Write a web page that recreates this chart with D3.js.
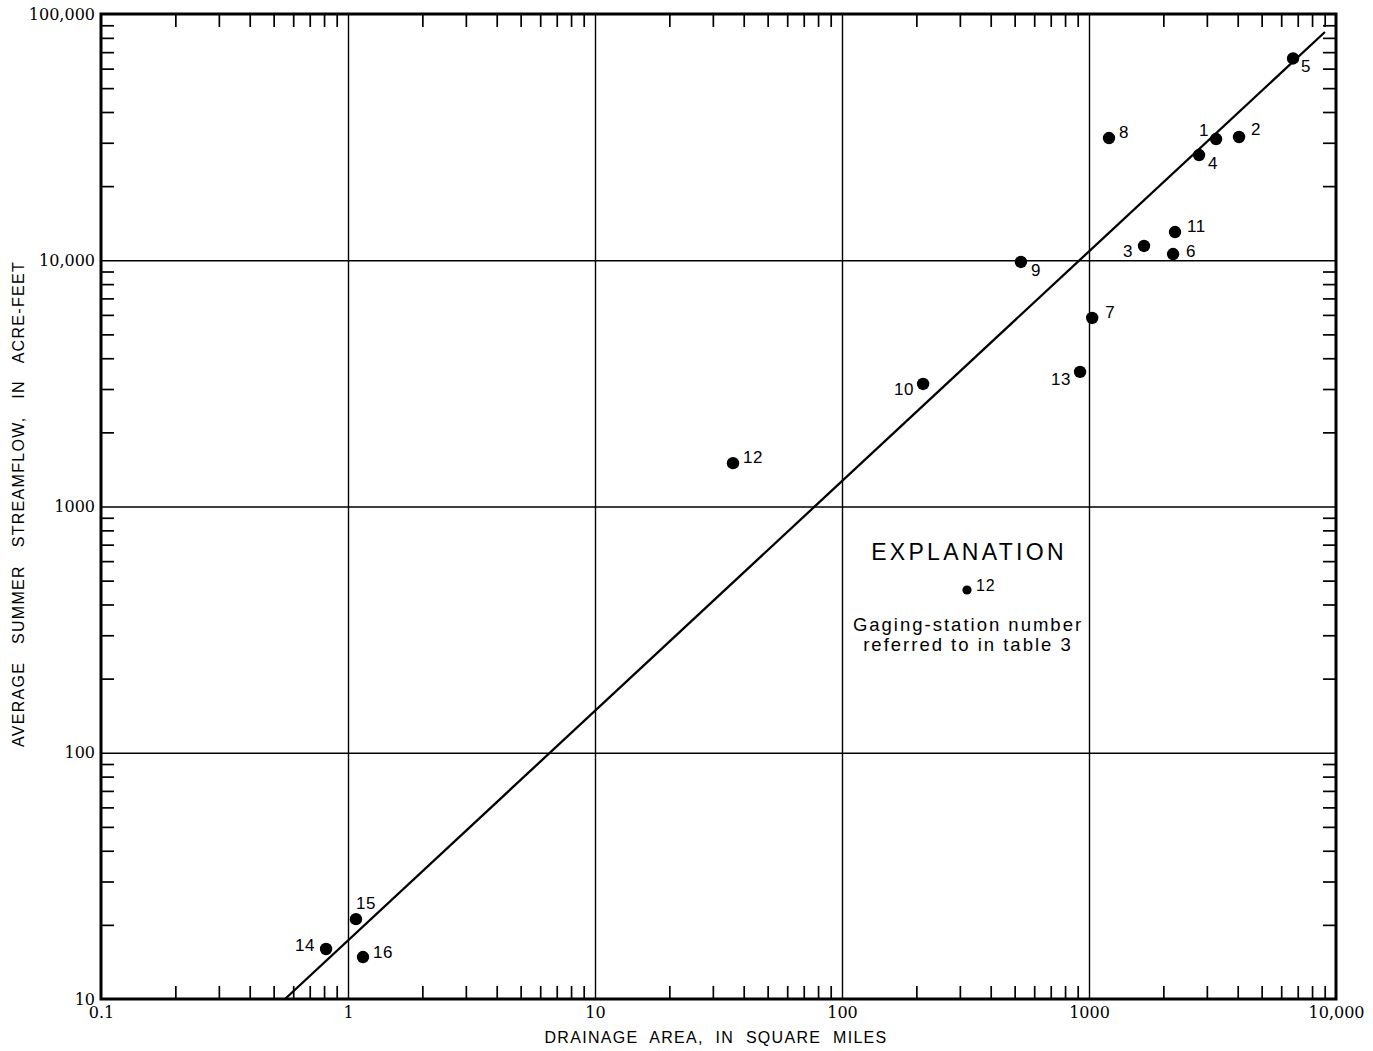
<!DOCTYPE html>
<html><head><meta charset="utf-8">
<script src="https://cdn.jsdelivr.net/npm/d3@7"></script>
<style>body{margin:0;background:#fff}</style>
</head><body>
<svg id="c" width="1373" height="1051"></svg>
<script>
// ---- data ----
const stations     = [5, 8, 1, 2, 4, 11, 3, 6, 9, 7, 13, 10, 12, 15, 14, 16];
const drainageArea = [6700, 1205, 3270, 4050, 2790, 2230, 1670, 2190, 530, 1030, 920, 213, 36.2, 1.077, 0.815, 1.15];
const summerFlow   = [66000, 31350, 31070, 31660, 26750, 13020, 11430, 10600, 9840, 5830, 3520, 3145, 1500, 21.1, 15.96, 14.8];
const fitArea = [0.556, 9020];
const fitFlow = [10, 84500];
const xTickValues = [0.1, 1, 10, 100, 1000, 10000];
const xTickLabels = ["0.1", "1", "10", "100", "1000", "10,000"];
const yTickValues = [10, 100, 1000, 10000, 100000];
const yTickLabels = ["10", "100", "1000", "10,000", "100,000"];
const xTitle = "DRAINAGE AREA, IN SQUARE MILES";
const yTitle = "AVERAGE SUMMER STREAMFLOW, IN ACRE-FEET";
const legendTitle = "EXPLANATION";
const legendNumber = "12";
const legendLines = ["Gaging-station number", "referred to in table  3"];

// ---- layout ----
const L = 101, R = 1336, T = 14, B = 999;
const svg = d3.select("#c");
const x = d3.scaleLog().domain([0.1, 10000]).range([L, R]);
const y = d3.scaleLog().domain([10, 100000]).range([B, T]);

function minorTicks(domain) {
  const out = [];
  for (let d = domain[0]; d < domain[1]; d *= 10)
    for (let k = 2; k <= 9; k++) out.push(+(d * k).toPrecision(6));
  return out;
}
const xMinor = minorTicks(x.domain());
const yMinor = minorTicks(y.domain());
const tick = 13;
const sans = "'Liberation Sans', Arial, Helvetica, sans-serif";
const serif = "'DejaVu Serif', 'Liberation Serif', serif";

function clean(g) { g.select(".domain").remove(); }

// gridlines
svg.append("g").attr("transform", `translate(0,${B})`)
  .call(d3.axisBottom(x).tickValues(xTickValues.slice(1, -1)).tickSize(-(B - T)).tickFormat(""))
  .call(clean).selectAll("line").attr("stroke", "#000").attr("stroke-width", 1.4);
svg.append("g").attr("transform", `translate(${L},0)`)
  .call(d3.axisLeft(y).tickValues(yTickValues.slice(1, -1)).tickSize(-(R - L)).tickFormat(""))
  .call(clean).selectAll("line").attr("stroke", "#000").attr("stroke-width", 1.4);

// minor ticks, inward on all sides
const minorStyle = g => g.call(clean).selectAll("line").attr("stroke", "#000").attr("stroke-width", 1.7);
svg.append("g").attr("transform", `translate(0,${B})`)
  .call(d3.axisBottom(x).tickValues(xMinor).tickSize(-tick).tickFormat("")).call(minorStyle);
svg.append("g").attr("transform", `translate(0,${T})`)
  .call(d3.axisTop(x).tickValues(xMinor).tickSize(-tick).tickFormat("")).call(minorStyle);
svg.append("g").attr("transform", `translate(${L},0)`)
  .call(d3.axisLeft(y).tickValues(yMinor).tickSize(-tick).tickFormat("")).call(minorStyle);
svg.append("g").attr("transform", `translate(${R},0)`)
  .call(d3.axisRight(y).tickValues(yMinor).tickSize(-tick).tickFormat("")).call(minorStyle);

// frame
svg.append("rect").attr("x", L).attr("y", T).attr("width", R - L).attr("height", B - T)
  .attr("fill", "none").attr("stroke", "#000").attr("stroke-width", 3);

// tick labels
const tickFont = g => g.call(clean).selectAll("text")
  .style("font-family", serif).style("font-size", "16px").attr("fill", "#000");
svg.append("g").attr("transform", `translate(0,${B})`)
  .call(d3.axisBottom(x).tickValues(xTickValues).tickSize(0).tickPadding(8)
    .tickFormat((d, i) => xTickLabels[i])).call(tickFont);
svg.append("g").attr("transform", `translate(${L},0)`)
  .call(d3.axisLeft(y).tickValues(yTickValues).tickSize(0).tickPadding(6)
    .tickFormat((d, i) => yTickLabels[i])).call(tickFont);

// axis titles
svg.append("text").attr("x", 716).attr("y", 1043).attr("text-anchor", "middle")
  .style("font-family", sans).style("font-size", "16px")
  .attr("letter-spacing", 1.3).attr("word-spacing", 6).text(xTitle);
svg.append("text").attr("transform", "translate(24,504) rotate(-90)").attr("text-anchor", "middle")
  .style("font-family", sans).style("font-size", "16px")
  .attr("letter-spacing", 1.3).attr("word-spacing", 12).text(yTitle);

// fitted line
const pts = fitArea.map((a, i) => [x(a), y(fitFlow[i])]);
svg.append("path").attr("d", d3.line()(pts)).attr("fill", "none")
  .attr("stroke", "#000").attr("stroke-width", 2.3);

// points
const data = stations.map((s, i) => ({ s, a: drainageArea[i], q: summerFlow[i] }));
svg.append("g").selectAll("circle").data(data).join("circle")
  .attr("cx", d => x(d.a)).attr("cy", d => y(d.q)).attr("r", 6.2).attr("fill", "#000");

// label placement (dx, dy, anchor) by station number
const place = {
  5: [8, 14, "start"], 8: [10, 0, "start"], 1: [-7, -3, "end"], 2: [12, -2, "start"],
  4: [9, 14, "start"], 11: [12, 0, "start"], 3: [-11, 11, "end"], 6: [13, 3, "start"],
  9: [10, 14, "start"], 7: [13, 0, "start"], 13: [-9, 13, "end"], 10: [-9, 11, "end"],
  12: [10, 0, "start"], 15: [0, -10, "start"], 14: [-11, 2, "end"], 16: [10, 1, "start"]
};
svg.append("g").selectAll("text").data(data).join("text")
  .attr("x", d => x(d.a) + place[d.s][0]).attr("y", d => y(d.q) + place[d.s][1])
  .attr("text-anchor", d => place[d.s][2])
  .style("font-family", sans).style("font-size", "17px")
  .attr("letter-spacing", 0.6).text(d => d.s);

// explanation
const lg = svg.append("g");
lg.append("text").attr("x", 969).attr("y", 560).attr("text-anchor", "middle")
  .style("font-family", sans).style("font-size", "23px").attr("letter-spacing", 3.3).text(legendTitle);
lg.append("circle").attr("cx", 967).attr("cy", 590).attr("r", 4.6).attr("fill", "#000");
lg.append("text").attr("x", 976).attr("y", 591)
  .style("font-family", sans).style("font-size", "16px").attr("letter-spacing", 0.8).text(legendNumber);
lg.selectAll("text.l").data(legendLines).join("text").attr("class", "l")
  .attr("x", 968).attr("y", (d, i) => 631 + i * 20).attr("text-anchor", "middle")
  .style("font-family", sans).style("font-size", "18.5px").attr("letter-spacing", 2).text(d => d);
</script>
</body></html>
